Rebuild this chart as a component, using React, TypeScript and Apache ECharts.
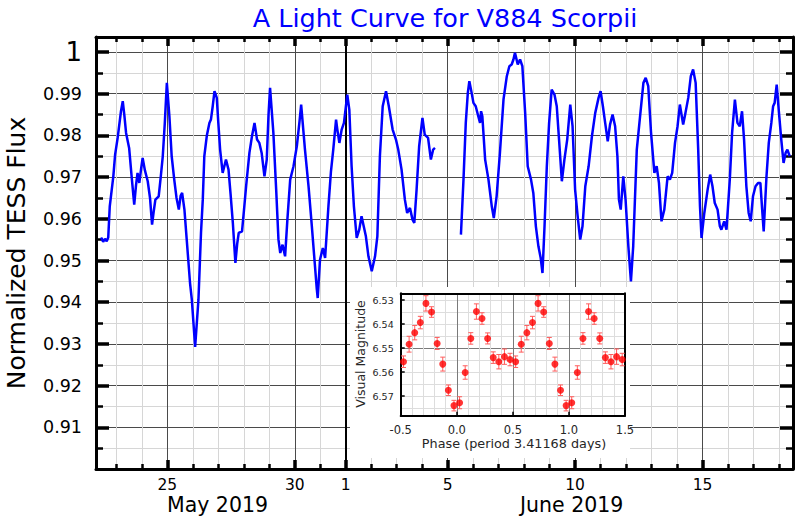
import React, { useEffect, useRef } from 'react';
import * as echarts from 'echarts';

const FONT = 'DejaVu Sans';

// ---- Main light curve (day of May 2019; June 1 = 32) ----
const orbit1Days = [22.40, 22.48, 22.55, 22.62, 22.68, 22.74, 22.88, 22.95, 23.05, 23.18, 23.25, 23.31, 23.38, 23.50, 23.60, 23.70, 23.77, 23.83, 23.90, 23.97, 24.03, 24.12, 24.23, 24.32, 24.40, 24.47, 24.53, 24.66, 24.74, 24.82, 24.90, 24.98, 25.08, 25.17, 25.27, 25.36, 25.45, 25.52, 25.58, 25.67, 25.76, 25.89, 25.96, 26.09, 26.22, 26.32, 26.39, 26.45, 26.55, 26.65, 26.71, 26.78, 26.85, 26.94, 27.00, 27.07, 27.17, 27.30, 27.40, 27.48, 27.57, 27.67, 27.74, 27.80, 27.93, 28.02, 28.09, 28.22, 28.32, 28.42, 28.52, 28.61, 28.70, 28.81, 28.90, 28.97, 29.03, 29.16, 29.27, 29.36, 29.43, 29.52, 29.62, 29.71, 29.82, 29.95, 30.08, 30.18, 30.25, 30.40, 30.54, 30.67, 30.86, 30.90, 30.99, 31.10, 31.19, 31.32, 31.42, 31.51, 31.62, 31.67, 31.75, 31.84, 31.93, 32.06, 32.14, 32.23, 32.32, 32.43, 32.53, 32.62, 32.79, 32.89, 33.02, 33.15, 33.24, 33.34, 33.45, 33.58, 33.69, 33.84, 33.97, 34.06, 34.19, 34.32, 34.41, 34.52, 34.62, 34.69, 34.78, 34.88, 35.01, 35.10, 35.23, 35.34, 35.43, 35.50];
const orbit1Flux = [0.9555, 0.9545, 0.9552, 0.9546, 0.9555, 0.9630, 0.9702, 0.9754, 0.9794, 0.9858, 0.9882, 0.9850, 0.9806, 0.9770, 0.9700, 0.9634, 0.9680, 0.9710, 0.9686, 0.9720, 0.9746, 0.9716, 0.9690, 0.9650, 0.9586, 0.9620, 0.9646, 0.9654, 0.9700, 0.9750, 0.9830, 0.9926, 0.9846, 0.9750, 0.9694, 0.9650, 0.9622, 0.9655, 0.9662, 0.9622, 0.9550, 0.9446, 0.9406, 0.9293, 0.9406, 0.9566, 0.9646, 0.9750, 0.9800, 0.9830, 0.9838, 0.9870, 0.9906, 0.9890, 0.9830, 0.9766, 0.9710, 0.9742, 0.9718, 0.9660, 0.9590, 0.9494, 0.9540, 0.9566, 0.9570, 0.9630, 0.9678, 0.9758, 0.9798, 0.9830, 0.9790, 0.9782, 0.9758, 0.9702, 0.9742, 0.9850, 0.9914, 0.9806, 0.9670, 0.9550, 0.9518, 0.9538, 0.9510, 0.9598, 0.9694, 0.9726, 0.9774, 0.9830, 0.9874, 0.9766, 0.9678, 0.9582, 0.9434, 0.9410, 0.9502, 0.9530, 0.9506, 0.9630, 0.9714, 0.9766, 0.9838, 0.9814, 0.9782, 0.9814, 0.9830, 0.9898, 0.9862, 0.9726, 0.9630, 0.9554, 0.9574, 0.9606, 0.9558, 0.9510, 0.9474, 0.9510, 0.9558, 0.9750, 0.9870, 0.9906, 0.9870, 0.9814, 0.9790, 0.9766, 0.9718, 0.9646, 0.9614, 0.9626, 0.9598, 0.9590, 0.9670, 0.9774, 0.9842, 0.9802, 0.9794, 0.9742, 0.9766, 0.9770];

const orbit2Days = [36.52, 36.62, 36.71, 36.79, 36.85, 36.94, 37.01, 37.10, 37.20, 37.27, 37.31, 37.36, 37.47, 37.60, 37.73, 37.81, 37.92, 38.05, 38.19, 38.32, 38.42, 38.51, 38.58, 38.64, 38.75, 38.84, 38.93, 39.04, 39.14, 39.27, 39.36, 39.46, 39.56, 39.65, 39.72, 39.80, 39.89, 39.98, 40.08, 40.19, 40.28, 40.37, 40.48, 40.58, 40.69, 40.81, 40.90, 41.00, 41.10, 41.20, 41.29, 41.40, 41.53, 41.66, 41.79, 41.92, 42.00, 42.09, 42.18, 42.28, 42.37, 42.47, 42.57, 42.66, 42.72, 42.79, 42.89, 42.98, 43.09, 43.19, 43.28, 43.42, 43.55, 43.68, 43.77, 43.87, 43.98, 44.11, 44.20, 44.29, 44.39, 44.50, 44.63, 44.72, 44.81, 44.92, 45.02, 45.11, 45.24, 45.33, 45.44, 45.54, 45.63, 45.73, 45.83, 45.90, 45.96, 46.07, 46.20, 46.30, 46.39, 46.48, 46.59, 46.68, 46.74, 46.85, 46.94, 47.07, 47.16, 47.27, 47.37, 47.46, 47.55, 47.63, 47.72, 47.81, 47.89, 47.98, 48.08, 48.18, 48.27, 48.34, 48.40, 48.51, 48.60, 48.70, 48.77, 48.83, 48.91, 49.00, 49.09, 49.18, 49.26, 49.33, 49.42];
const orbit2Flux = [0.9562, 0.9694, 0.9830, 0.9902, 0.9930, 0.9902, 0.9878, 0.9870, 0.9846, 0.9830, 0.9858, 0.9846, 0.9742, 0.9694, 0.9630, 0.9602, 0.9654, 0.9758, 0.9886, 0.9942, 0.9966, 0.9970, 0.9982, 0.9998, 0.9970, 0.9982, 0.9966, 0.9854, 0.9726, 0.9694, 0.9662, 0.9582, 0.9534, 0.9506, 0.9470, 0.9582, 0.9726, 0.9830, 0.9910, 0.9898, 0.9870, 0.9790, 0.9690, 0.9742, 0.9790, 0.9874, 0.9822, 0.9670, 0.9606, 0.9550, 0.9582, 0.9678, 0.9726, 0.9798, 0.9854, 0.9890, 0.9906, 0.9870, 0.9830, 0.9786, 0.9826, 0.9850, 0.9822, 0.9750, 0.9646, 0.9622, 0.9702, 0.9646, 0.9534, 0.9450, 0.9534, 0.9766, 0.9846, 0.9926, 0.9938, 0.9918, 0.9806, 0.9710, 0.9726, 0.9686, 0.9594, 0.9622, 0.9702, 0.9694, 0.9710, 0.9782, 0.9822, 0.9874, 0.9826, 0.9854, 0.9890, 0.9942, 0.9958, 0.9926, 0.9766, 0.9630, 0.9554, 0.9614, 0.9670, 0.9706, 0.9678, 0.9638, 0.9622, 0.9582, 0.9574, 0.9594, 0.9574, 0.9694, 0.9806, 0.9886, 0.9830, 0.9822, 0.9858, 0.9790, 0.9678, 0.9614, 0.9594, 0.9654, 0.9678, 0.9686, 0.9686, 0.9622, 0.9570, 0.9702, 0.9782, 0.9830, 0.9870, 0.9878, 0.9922, 0.9854, 0.9790, 0.9734, 0.9758, 0.9766, 0.9750];

// ---- Main axes ticks & labels ----
const majorDayTicks = [25, 30, 32, 36, 41, 46];
const majorDayLabels = ['25', '30', '1', '5', '10', '15'];
const majorGridDays = [25, 30, 36, 41, 46];
const monthBoundaryDays = [32];
const minorDayTicks = [23, 24, 26, 27, 28, 29, 31, 33, 34, 35, 37, 38, 39, 40, 42, 43, 44, 45, 47, 48, 49];
const fluxMajorTicks = [0.91, 0.92, 0.93, 0.94, 0.95, 0.96, 0.97, 0.98, 0.99, 1.0];
const fluxTickLabels = ['0.91', '0.92', '0.93', '0.94', '0.95', '0.96', '0.97', '0.98', '0.99', '1'];
const fluxMinorTicks = [0.905, 0.915, 0.925, 0.935, 0.945, 0.955, 0.965, 0.975, 0.985, 0.995];

// ---- Inset: phased visual magnitudes ----
const phaseBins = [-0.475, -0.425, -0.375, -0.325, -0.275, -0.225, -0.175, -0.125, -0.075, -0.025, 0.025, 0.075, 0.125, 0.175, 0.225, 0.275, 0.325, 0.375, 0.425, 0.475, 0.525, 0.575, 0.625, 0.675, 0.725, 0.775, 0.825, 0.875, 0.925, 0.975, 1.025, 1.075, 1.125, 1.175, 1.225, 1.275, 1.325, 1.375, 1.425, 1.475];
const visualMag = [6.5557, 6.5484, 6.5436, 6.5394, 6.5314, 6.5350, 6.5481, 6.5567, 6.5676, 6.5740, 6.5728, 6.5602, 6.5460, 6.5348, 6.5377, 6.5460, 6.5540, 6.5557, 6.5536, 6.5548, 6.5557, 6.5484, 6.5436, 6.5394, 6.5314, 6.5350, 6.5481, 6.5567, 6.5676, 6.5740, 6.5728, 6.5602, 6.5460, 6.5348, 6.5377, 6.5460, 6.5540, 6.5557, 6.5536, 6.5548];
const magError = [0.0024, 0.0033, 0.0030, 0.0026, 0.0032, 0.0022, 0.0025, 0.0029, 0.0022, 0.0022, 0.0025, 0.0028, 0.0024, 0.0032, 0.0024, 0.0023, 0.0024, 0.0030, 0.0032, 0.0026, 0.0024, 0.0033, 0.0030, 0.0026, 0.0032, 0.0022, 0.0025, 0.0029, 0.0022, 0.0022, 0.0025, 0.0028, 0.0024, 0.0032, 0.0024, 0.0023, 0.0024, 0.0030, 0.0032, 0.0026];
const magTicks = [6.53, 6.54, 6.55, 6.56, 6.57];
const magMinorGrid = [6.53, 6.535, 6.54, 6.545, 6.555, 6.56, 6.565, 6.57, 6.575];
const magMajorGrid = [6.55];
const phaseMinorGrid = [-0.4, -0.3, -0.2, -0.1, 0.1, 0.2, 0.3, 0.4, 0.6, 0.7, 0.8, 0.9, 1.1, 1.2, 1.3, 1.4];
const phaseMajorGrid = [0, 0.5, 1.0];

const titleText = 'A Light Curve for V884 Scorpii';
const yAxisTitle = 'Normalized TESS Flux';
const monthTexts = ['May 2019', 'June 2019'];
const insetYTitle = 'Visual Magnitude';
const insetXTitle = 'Phase (period 3.41168 days)';

function buildOption() {
  const orbit1 = orbit1Days.map((d, i) => [d, orbit1Flux[i]]);
  const orbit2 = orbit2Days.map((d, i) => [d, orbit2Flux[i]]);
  const magPts = phaseBins.map((p, i) => [p, visualMag[i]]);
  const errPts = phaseBins.map((p, i) => [p, visualMag[i], magError[i]]);

  const mainX = { gridIndex: 0, type: 'value', min: 22.2, max: 49.55, z: 0 };
  const mainY = { gridIndex: 0, type: 'value', min: 0.9, max: 1.0036, z: 0 };
  const insetX = { gridIndex: 1, type: 'value', min: -0.5, max: 1.5, z: 3 };
  const insetY = { gridIndex: 1, type: 'value', inverse: true, min: 6.5272, max: 6.5782, z: 3 };
  const noLine = { show: false, onZero: false };
  const boxLine = (w: number) => ({ show: true, onZero: false, lineStyle: { color: '#000', width: w } });

  const dayLabel = (v: number) => {
    const i = majorDayTicks.findIndex((t) => Math.abs(t - v) < 1e-6);
    return i >= 0 ? majorDayLabels[i] : '';
  };
  const fluxLabel = (v: number) => {
    const i = fluxMajorTicks.findIndex((t) => Math.abs(t - v) < 1e-9);
    if (i < 0) return '';
    const s = fluxTickLabels[i];
    return s === '1' ? '{big|1}' : s;
  };

  return {
    animation: false,
    backgroundColor: '#ffffff',
    grid: [
      { left: 96, top: 37, width: 697, height: 432 },
      { left: 400.7, top: 293.3, width: 224.3, height: 122.4 },
    ],
    xAxis: [
      // 0 minor grid + minor ticks (bottom)
      { ...mainX, position: 'bottom', axisLine: noLine,
        axisTick: { show: true, inside: true, length: 5, customValues: minorDayTicks, lineStyle: { color: '#000', width: 2.5 } },
        axisLabel: { show: false }, splitLine: { show: true, lineStyle: { color: '#d6d6d6', width: 1 } } },
      // 1 major grid
      { ...mainX, position: 'bottom', axisLine: noLine,
        axisTick: { show: false, customValues: majorGridDays }, axisLabel: { show: false },
        splitLine: { show: true, lineStyle: { color: '#4a4a4a', width: 1 } } },
      // 2 month boundary
      { ...mainX, position: 'bottom', axisLine: noLine,
        axisTick: { show: false, customValues: monthBoundaryDays }, axisLabel: { show: false },
        splitLine: { show: true, lineStyle: { color: '#000', width: 2 } } },
      // 3 main bottom axis
      { ...mainX, position: 'bottom', axisLine: boxLine(3),
        axisTick: { show: true, inside: true, length: 9, customValues: majorDayTicks, lineStyle: { color: '#000', width: 3.5 } },
        axisLabel: { show: true, customValues: majorDayTicks, formatter: dayLabel, margin: 8, fontSize: 15.5, color: '#000', fontFamily: FONT },
        splitLine: { show: false } },
      // 4 top major
      { ...mainX, position: 'top', axisLine: boxLine(3),
        axisTick: { show: true, inside: true, length: 9, customValues: majorDayTicks, lineStyle: { color: '#000', width: 3.5 } },
        axisLabel: { show: false }, splitLine: { show: false } },
      // 5 top minor
      { ...mainX, position: 'top', axisLine: noLine,
        axisTick: { show: true, inside: true, length: 5, customValues: minorDayTicks, lineStyle: { color: '#000', width: 2.5 } },
        axisLabel: { show: false }, splitLine: { show: false } },
      // 6 inset minor grid
      { ...insetX, position: 'bottom', axisLine: noLine,
        axisTick: { show: false, customValues: phaseMinorGrid }, axisLabel: { show: false },
        splitLine: { show: true, lineStyle: { color: '#dddddd', width: 1 } } },
      // 7 inset major grid
      { ...insetX, position: 'bottom', axisLine: noLine,
        axisTick: { show: false, customValues: phaseMajorGrid }, axisLabel: { show: false },
        splitLine: { show: true, lineStyle: { color: '#7a7a7a', width: 1 } } },
      // 8 inset main x
      { ...insetX, position: 'bottom', interval: 0.5, axisLine: boxLine(2),
        axisTick: { show: true, inside: true, length: 4, lineStyle: { color: '#000', width: 1.5 } },
        axisLabel: { show: true, formatter: (v: number) => v.toFixed(1), margin: 8, fontSize: 11.5, color: '#262626', fontFamily: FONT },
        splitLine: { show: false } },
      // 9 inset top frame
      { ...insetX, position: 'top', axisLine: boxLine(2), axisTick: { show: false }, axisLabel: { show: false }, splitLine: { show: false } },
    ],
    yAxis: [
      // 0 minor left
      { ...mainY, position: 'left', axisLine: noLine,
        axisTick: { show: true, inside: true, length: 7, customValues: fluxMinorTicks, lineStyle: { color: '#000', width: 2.5 } },
        axisLabel: { show: false }, splitLine: { show: true, lineStyle: { color: '#d6d6d6', width: 1 } } },
      // 1 main left
      { ...mainY, position: 'left', axisLine: boxLine(3),
        axisTick: { show: true, inside: true, length: 13, customValues: fluxMajorTicks, lineStyle: { color: '#000', width: 3.5 } },
        axisLabel: { show: true, customValues: fluxMajorTicks, formatter: fluxLabel, margin: 14, fontSize: 17.5, color: '#000', fontFamily: FONT,
          rich: { big: { fontSize: 26, fontFamily: FONT, color: '#000' } } },
        splitLine: { show: true, lineStyle: { color: '#4a4a4a', width: 1 } } },
      // 2 right major
      { ...mainY, position: 'right', axisLine: boxLine(3),
        axisTick: { show: true, inside: true, length: 13, customValues: fluxMajorTicks, lineStyle: { color: '#000', width: 3.5 } },
        axisLabel: { show: false }, splitLine: { show: false } },
      // 3 right minor
      { ...mainY, position: 'right', axisLine: noLine,
        axisTick: { show: true, inside: true, length: 7, customValues: fluxMinorTicks, lineStyle: { color: '#000', width: 2.5 } },
        axisLabel: { show: false }, splitLine: { show: false } },
      // 4 inset minor grid
      { ...insetY, position: 'left', axisLine: noLine,
        axisTick: { show: false, customValues: magMinorGrid }, axisLabel: { show: false },
        splitLine: { show: true, lineStyle: { color: '#dddddd', width: 1 } } },
      // 5 inset major grid
      { ...insetY, position: 'left', axisLine: noLine,
        axisTick: { show: false, customValues: magMajorGrid }, axisLabel: { show: false },
        splitLine: { show: true, lineStyle: { color: '#7a7a7a', width: 1 } } },
      // 6 inset main y
      { ...insetY, position: 'left', axisLine: boxLine(2),
        axisTick: { show: true, inside: true, length: 4, customValues: magTicks, lineStyle: { color: '#000', width: 1.5 } },
        axisLabel: { show: true, customValues: magTicks, formatter: (v: number) => v.toFixed(2), margin: 7, fontSize: 9.5, color: '#262626', fontFamily: FONT },
        splitLine: { show: false } },
      // 7 inset right frame
      { ...insetY, position: 'right', axisLine: boxLine(2), axisTick: { show: false }, axisLabel: { show: false }, splitLine: { show: false } },
    ],
    graphic: {
      elements: [
        { type: 'rect', z: 1, silent: true, shape: { x: 350, y: 287, width: 280, height: 171 }, style: { fill: '#ffffff' } },
        { type: 'text', z: 5, x: 445, y: 17.5, style: { text: titleText, fill: '#0000ff', fontSize: 25.5, fontFamily: FONT, align: 'center', verticalAlign: 'middle' } },
        { type: 'text', z: 5, x: 16, y: 253, rotation: Math.PI / 2, style: { text: yAxisTitle, fill: '#000', fontSize: 25, fontFamily: FONT, align: 'center', verticalAlign: 'middle' } },
        { type: 'text', z: 5, x: 217.5, y: 504.6, style: { text: monthTexts[0], fill: '#000', fontSize: 20.5, fontFamily: FONT, align: 'center', verticalAlign: 'middle' } },
        { type: 'text', z: 5, x: 571.7, y: 504.6, style: { text: monthTexts[1], fill: '#000', fontSize: 20.5, fontFamily: FONT, align: 'center', verticalAlign: 'middle' } },
        { type: 'text', z: 5, x: 360.6, y: 354, rotation: Math.PI / 2, style: { text: insetYTitle, fill: '#262626', fontSize: 12.5, fontFamily: FONT, align: 'center', verticalAlign: 'middle' } },
        { type: 'text', z: 5, x: 514, y: 443.8, style: { text: insetXTitle, fill: '#262626', fontSize: 12.8, fontFamily: FONT, align: 'center', verticalAlign: 'middle' } },
      ],
    },
    series: [
      { type: 'line', name: 'orbit1', xAxisIndex: 3, yAxisIndex: 1, data: orbit1, showSymbol: false, symbol: 'none', silent: true, z: 2,
        lineStyle: { color: '#0000ff', width: 2.5 } },
      { type: 'line', name: 'orbit2', xAxisIndex: 3, yAxisIndex: 1, data: orbit2, showSymbol: false, symbol: 'none', silent: true, z: 2,
        lineStyle: { color: '#0000ff', width: 2.5 } },
      { type: 'custom', name: 'errors', xAxisIndex: 8, yAxisIndex: 6, data: errPts, z: 4, silent: true,
        encode: { x: 0, y: 1 },
        renderItem: (params: any, api: any) => {
          const x = api.value(0);
          const y = api.value(1);
          const e = api.value(2);
          const a = api.coord([x, y - e]);
          const b = api.coord([x, y + e]);
          const hw = 2.5;
          const st = { stroke: '#ff5c5c', lineWidth: 1 };
          return {
            type: 'group',
            children: [
              { type: 'line', shape: { x1: a[0], y1: a[1], x2: b[0], y2: b[1] }, style: st },
              { type: 'line', shape: { x1: a[0] - hw, y1: a[1], x2: a[0] + hw, y2: a[1] }, style: st },
              { type: 'line', shape: { x1: b[0] - hw, y1: b[1], x2: b[0] + hw, y2: b[1] }, style: st },
            ],
          };
        } },
      { type: 'scatter', name: 'mags', xAxisIndex: 8, yAxisIndex: 6, data: magPts, symbolSize: 7, z: 5, silent: true,
        itemStyle: { color: '#ff0000' } },
    ],
  };
}

export default function App() {
  const ref = useRef<HTMLDivElement>(null);
  useEffect(() => {
    if (!ref.current) return;
    const chart = echarts.init(ref.current, null, { renderer: 'svg' });
    chart.setOption(buildOption() as any);
    return () => chart.dispose();
  }, []);
  return (
    <div
      ref={ref}
      style={{ position: 'absolute', left: 0, top: 0, width: 800, height: 520, background: '#ffffff' }}
    />
  );
}
